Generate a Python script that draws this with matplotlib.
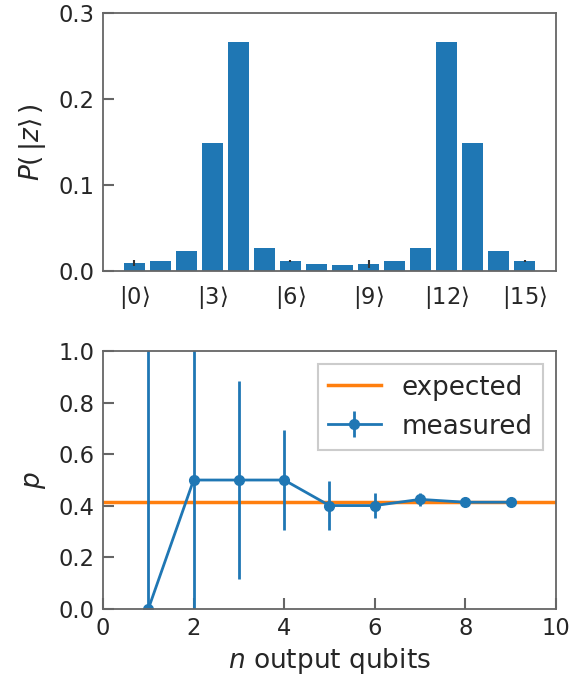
import numpy as np
import matplotlib
matplotlib.use("Agg")
import matplotlib.pyplot as plt

# top panel: probability of each basis state
states = list(range(16))
probs = [0.0089, 0.0112, 0.0229, 0.1483, 0.2668, 0.0264, 0.0112, 0.0078,
         0.0066, 0.0078, 0.0112, 0.0264, 0.2668, 0.1483, 0.0229, 0.0112]
prob_err = [0.0035, 0.0, 0.0, 0.0, 0.0, 0.0, 0.0012, 0.0,
            0.0, 0.0046, 0.0, 0.0, 0.0, 0.0, 0.0, 0.0012]
tick_states = [0, 3, 6, 9, 12, 15]

# bottom panel: estimated p vs number of output qubits
n_qubits = [1, 2, 3, 4, 5, 6, 7, 8, 9]
p_measured = [0.0, 0.5, 0.5, 0.5, 0.401, 0.401, 0.425, 0.414, 0.414]
p_err = [1.54, 0.77, 0.385, 0.193, 0.096, 0.048, 0.024, 0.012, 0.006]
p_expected = 0.414

spine_col = "#666666"
text_col = "#262626"
plt.rcParams["text.color"] = text_col
plt.rcParams["axes.labelcolor"] = text_col
plt.rcParams["xtick.color"] = text_col
plt.rcParams["ytick.color"] = text_col

fig = plt.figure(figsize=(5.84, 6.82), dpi=100)
ax1 = fig.add_axes([0.1764, 0.6026, 0.952 - 0.1764, 0.981 - 0.6026])
ax2 = fig.add_axes([0.1764, 0.107, 0.952 - 0.1764, 0.4853 - 0.107])

ax1.bar(states, probs, width=0.8, color="#1f77b4", yerr=prob_err,
        error_kw=dict(ecolor="#333333", elinewidth=1.5))
ax1.set_xlim(-1.2, 16.2)
ax1.set_ylim(0, 0.3)
ax1.set_yticks([0, 0.1, 0.2, 0.3])
ax1.set_xticks(tick_states)
ax1.set_xticklabels([rf"$|{s}\rangle$" for s in tick_states])
ax1.set_ylabel(r"$P(\,|z\rangle\,)$", fontsize=19, labelpad=8)
ax1.tick_params(axis="x", length=0, labelsize=16.3, pad=9)
ax1.tick_params(axis="y", direction="in", length=8, width=1.5,
                color=spine_col, labelsize=16.3, pad=6)

ax2.axhline(p_expected, color="#ff7f0e", lw=2.5, label="expected")
ax2.errorbar(n_qubits, p_measured, yerr=p_err, color="#1f77b4", lw=2,
             elinewidth=2, marker="o", markersize=7, label="measured")
ax2.set_xlim(0, 10)
ax2.set_ylim(0, 1)
ax2.set_xticks(np.arange(0, 11, 2))
ax2.set_yticks(np.arange(0, 1.01, 0.2))
ax2.set_xlabel(r"$n$ output qubits", fontsize=19)
ax2.set_ylabel(r"$p$", fontsize=19, labelpad=8)
ax2.tick_params(direction="in", length=8, width=1.5, color=spine_col,
                labelsize=16.3, pad=6)
leg = ax2.legend(loc="upper right", fontsize=18.8, fancybox=False,
                 framealpha=1, edgecolor="#cccccc")
leg.get_frame().set_linewidth(1.5)

for ax in (ax1, ax2):
    for sp in ax.spines.values():
        sp.set_color(spine_col)
        sp.set_linewidth(1.3)

fig.savefig("out.png", dpi=100)
